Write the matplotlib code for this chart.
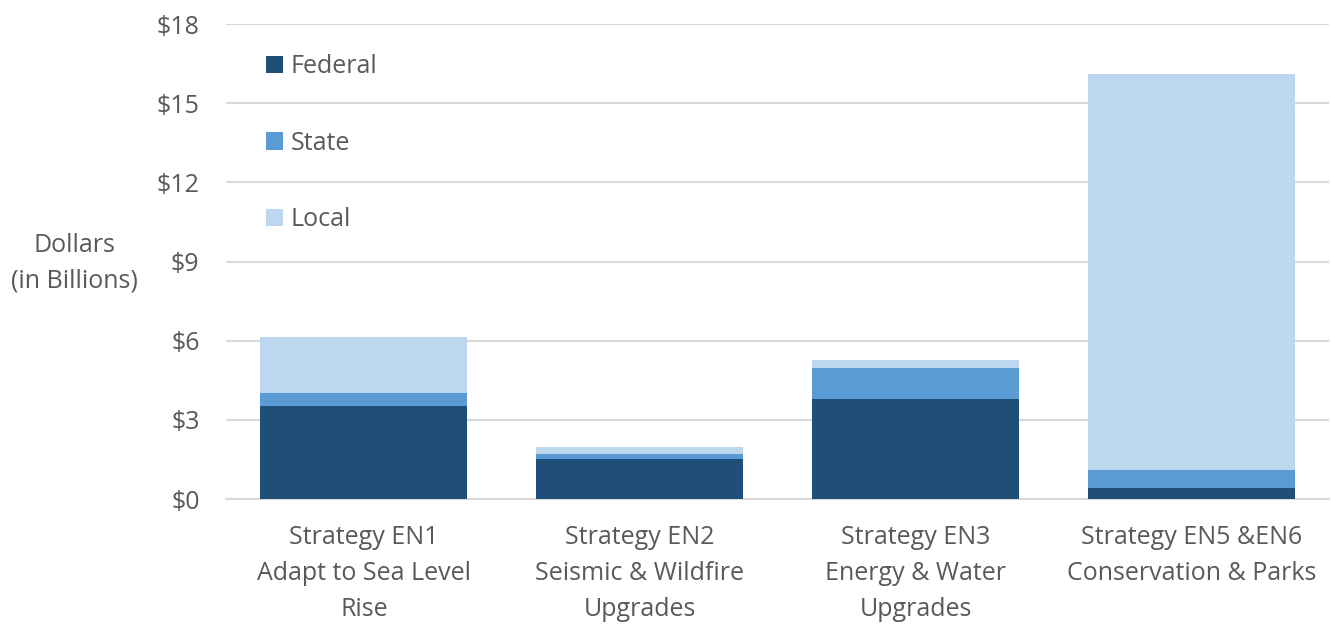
import matplotlib
matplotlib.use("Agg")
import matplotlib.pyplot as plt
import numpy as np

plt.rcParams['font.family'] = ['Open Sans', 'DejaVu Sans']

categories = ["Strategy EN1\nAdapt to Sea Level\nRise",
              "Strategy EN2\nSeismic & Wildfire\nUpgrades",
              "Strategy EN3\nEnergy & Water\nUpgrades",
              "Strategy EN5 &EN6\nConservation & Parks"]
federal = [3.53, 1.52, 3.78, 0.42]
state = [0.47, 0.18, 1.17, 0.69]
local = [2.15, 0.27, 0.32, 14.98]
yticks = [0, 3, 6, 9, 12, 15, 18]

c_fed, c_state, c_local = "#1F4E79", "#5B9BD5", "#BDD7EE"
txt = "#595959"
fs = 18

fig = plt.figure(figsize=(13.31, 6.24), dpi=100)
ax = fig.add_axes([0.1698, 0.2003, 0.829, 0.7612])

x = np.arange(len(categories))
w = 0.75
fed = np.array(federal)
st = np.array(state)
lo = np.array(local)
ax.bar(x, fed, w, color=c_fed, label="Federal", zorder=3)
ax.bar(x, st, w, bottom=fed, color=c_state, label="State", zorder=3)
ax.bar(x, lo, w, bottom=fed + st, color=c_local, label="Local", zorder=3)

ax.set_xlim(-0.5, len(categories) - 0.5)
ax.set_ylim(0, 18)
ax.set_yticks(yticks)
ax.set_yticklabels([f"${v}" for v in yticks])
ax.yaxis.grid(True, color="#D9D9D9", linewidth=1.5, zorder=0)
ax.set_axisbelow(True)
for s in ["top", "right", "left"]:
    ax.spines[s].set_visible(False)
ax.spines["bottom"].set_color("#D9D9D9")
ax.spines["bottom"].set_linewidth(1.5)
ax.tick_params(axis="y", length=0, pad=19, labelsize=fs, labelcolor=txt)
ax.tick_params(axis="x", length=0, pad=19, labelsize=fs, labelcolor=txt)
ax.set_xticks(x)
ax.set_xticklabels(categories, linespacing=1.58)

leg = ax.legend(loc="upper left", bbox_to_anchor=(0.027, 0.958), frameon=False,
                fontsize=fs, labelspacing=2.07, handlelength=0.68, handleheight=0.68,
                handletextpad=0.3, borderaxespad=0)
for t in leg.get_texts():
    t.set_color(txt)

fig.text(0.056, 0.578, "Dollars\n(in Billions)", ha="center", va="center",
         fontsize=fs, color=txt, linespacing=1.55)

fig.savefig("out.png", dpi=100)
